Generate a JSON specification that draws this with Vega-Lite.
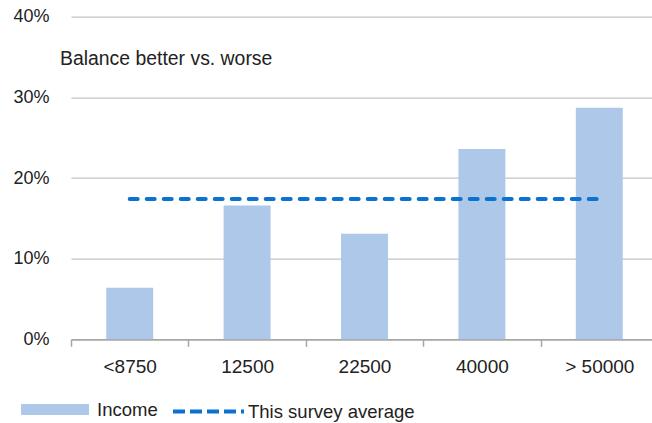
{
  "$schema": "https://vega.github.io/schema/vega-lite/v6.json",
  "width": 587,
  "height": 322.6,
  "autosize": {"type": "none"},
  "padding": {"left": 71, "top": 16.7, "right": 0, "bottom": 83.7},
  "background": "white",
  "config": {
    "view": {"stroke": null},
    "font": "Liberation Sans"
  },
  "title": {
    "text": "Balance better vs. worse",
    "anchor": "start",
    "frame": "group",
    "orient": "top",
    "offset": 0,
    "dx": -11,
    "dy": 77,
    "baseline": "alphabetic",
    "fontSize": 19.4,
    "fontWeight": "normal",
    "color": "#222222",
    "font": "Liberation Sans"
  },
  "data": {
    "values": [
      {"income": "<8750", "share": 0.064, "avg": 0.174},
      {"income": "12500", "share": 0.166, "avg": 0.174},
      {"income": "22500", "share": 0.131, "avg": 0.174},
      {"income": "40000", "share": 0.236, "avg": 0.174},
      {"income": "> 50000", "share": 0.287, "avg": 0.174}
    ]
  },
  "layer": [
    {
      "mark": {"type": "bar", "width": {"band": 0.4}},
      "encoding": {
        "x": {
          "field": "income",
          "type": "nominal",
          "sort": null,
          "scale": {"paddingInner": 0, "paddingOuter": 0},
          "axis": {
            "title": null,
            "labelAngle": 0,
            "labelFontSize": 19,
            "labelColor": "#222222",
            "labelFont": "Liberation Sans",
            "labelBaseline": "alphabetic",
            "labelPadding": 26.4,
            "tickBand": "extent",
            "tickSize": 7,
            "tickColor": "#a6a6a6",
            "tickWidth": 1.5,
            "domainColor": "#a6a6a6",
            "domainWidth": 1.5,
            "grid": false
          }
        },
        "y": {
          "field": "share",
          "type": "quantitative",
          "scale": {"domain": [0, 0.4]},
          "axis": {
            "title": null,
            "format": ".0%",
            "values": [0, 0.1, 0.2, 0.3, 0.4],
            "labelFontSize": 18,
            "labelColor": "#222222",
            "labelFont": "Liberation Sans",
            "labelPadding": 22,
            "ticks": false,
            "domain": false,
            "grid": true,
            "gridColor": "#c3c3c3",
            "gridWidth": 1.3
          }
        },
        "fill": {
          "datum": "Income",
          "type": "nominal",
          "scale": {"domain": ["Income"], "range": ["#aec8e9"]},
          "legend": {
            "title": null,
            "orient": "none",
            "legendX": -50,
            "legendY": 358.8,
            "symbolType": "M-1,-0.16H1V0.16H-1Z",
            "symbolSize": 4624,
            "symbolStrokeWidth": 0,
            "labelFontSize": 18.5,
            "labelColor": "#222222",
            "labelFont": "Liberation Sans",
            "labelOffset": 8,
            "labelLimit": 300
          }
        }
      }
    },
    {
      "mark": {"type": "line", "strokeDash": [8, 9], "strokeCap": "round", "strokeWidth": 4},
      "encoding": {
        "x": {"field": "income", "type": "nominal", "sort": null},
        "y": {"field": "avg", "type": "quantitative"},
        "stroke": {
          "datum": "This survey average",
          "type": "nominal",
          "scale": {"domain": ["This survey average"], "range": ["#0a73d2"]},
          "legend": {
            "title": null,
            "orient": "none",
            "legendX": 100,
            "legendY": 357.3,
            "symbolType": "stroke",
            "symbolSize": 5041,
            "symbolStrokeWidth": 4,
            "symbolDash": [12, 5],
            "labelFontSize": 18.5,
            "labelColor": "#222222",
            "labelFont": "Liberation Sans",
            "labelOffset": 2,
            "labelLimit": 300
          }
        }
      }
    }
  ]
}
